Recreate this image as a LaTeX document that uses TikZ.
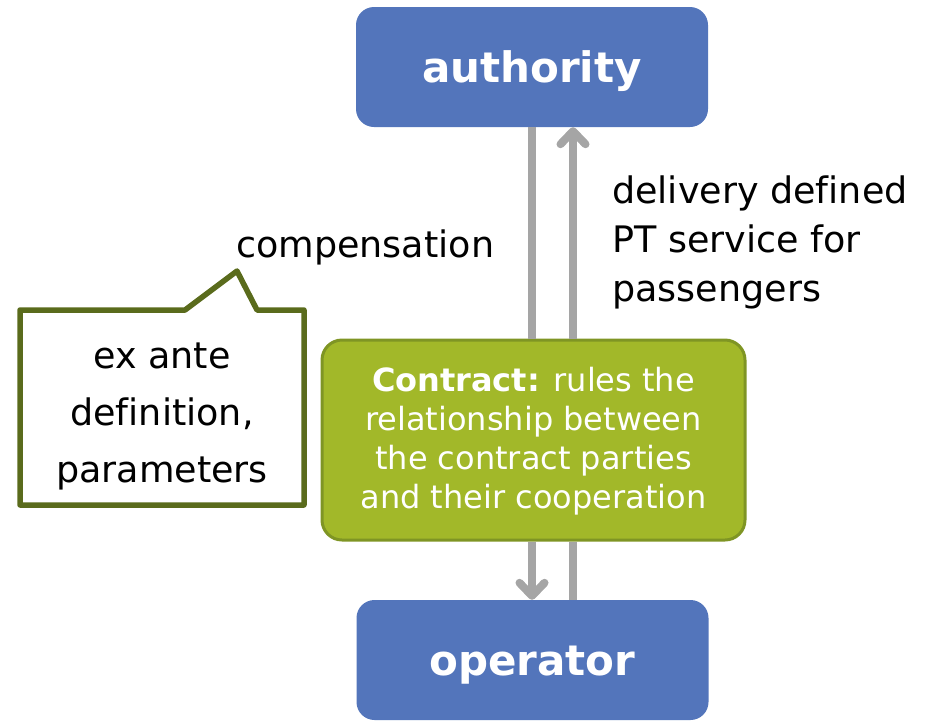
\documentclass[tikz,border=0pt]{standalone}
\usepackage{fontspec}
\setmainfont{DejaVu Sans}[Ligatures=NoCommon]
\usetikzlibrary{arrows.meta}
\definecolor{boxblue}{HTML}{5375BB}
\definecolor{cfill}{HTML}{A2B829}
\definecolor{cborder}{HTML}{7F9524}
\definecolor{olive}{HTML}{5A6B1C}
\definecolor{flowgray}{HTML}{A5A5A5}
\begin{document}
\begin{tikzpicture}[x=1pt,y=-1pt,
  partybox/.style={fill=boxblue, rounded corners=18pt, minimum width=352pt, minimum height=120pt,
    text=white, inner sep=0pt, text height=36pt, text depth=6pt,
    font=\fontsize{42}{50}\selectfont\bfseries},
  contractbox/.style={fill=cfill, draw=cborder, line width=3pt, rounded corners=20pt,
    minimum width=423pt, minimum height=200pt},
  contracttext/.style={text=white, align=center, inner sep=0pt, font=\fontsize{32}{38.7}\selectfont},
  flow/.style={draw=flowgray, line width=8pt},
  flowarrow/.style={flow, -{Straight Barb[length=13pt, width=25pt, round]}},
  plaintext/.style={inner sep=0pt, text=black, font=\fontsize{36.5}{49}\selectfont},
  calloutline/.style={draw=olive, line width=5.5pt, line join=round, fill=white}
]
\useasboundingbox (0,0) rectangle (928,721);
% parties
\node[partybox] (auth) at (532,67) {authority};
\node[partybox] (oper) at (532.5,660) {operator};
% contract
\node[contractbox] (contract) at (533.5,440) {};
\node[contracttext, anchor=base] (ctext) at (533.5,508)
  {\textbf{Contract:} rules the\\relationship between\\the contract parties\\and their cooperation};
% flow lines
\coordinate (lx) at (532,0);
\coordinate (rx) at (573,0);
\draw[flow] (auth.south -| lx) -- (contract.north -| lx);
\draw[flowarrow] (contract.north -| rx) -- (auth.south -| rx);
\draw[flowarrow] (contract.south -| lx) -- (oper.north -| lx);
\draw[flow] (oper.north -| rx) -- (contract.south -| rx);
% labels
\node[plaintext, anchor=base west] (comp) at (236,257) {compensation};
\node[plaintext, anchor=base west, align=left] (deliv) at (612,301)
  {delivery defined\\PT service for\\passengers};
% callout
\coordinate (tip) at (237,271);
\draw[calloutline] (20,310) -- (185,310) -- (tip) -- (257,310) -- (304,310)
  -- (304,505) -- (20,505) -- cycle;
\node[plaintext, anchor=base, align=center, font=\fontsize{36.5}{57}\selectfont] (callout) at (162,482)
  {ex ante\\definition,\\parameters};
\end{tikzpicture}
\end{document}
